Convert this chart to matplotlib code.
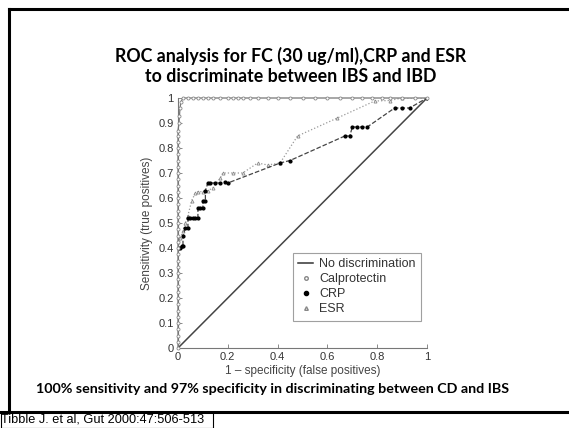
import matplotlib
matplotlib.use("Agg")
import matplotlib.pyplot as plt
from matplotlib.lines import Line2D
from matplotlib.patches import Rectangle

# ROC curves (x = 1 - specificity, y = sensitivity)
calpro_x = [0, 0, 0, 0, 0, 0, 0, 0, 0, 0, 0, 0, 0, 0, 0, 0, 0, 0, 0, 0,
            0, 0, 0, 0, 0, 0, 0, 0, 0, 0, 0, 0, 0, 0, 0, 0, 0.004, 0.006, 0.008, 0.012,
            0.02, 0.04, 0.06, 0.08, 0.1, 0.12, 0.14, 0.17, 0.2, 0.22, 0.24, 0.26,
            0.29, 0.32, 0.36, 0.4, 0.45, 0.5, 0.55, 0.6, 0.65, 0.7, 0.74, 0.78,
            0.82, 0.85, 0.9, 0.95, 1.0]
calpro_y = [0, 0.025, 0.05, 0.075, 0.1, 0.125, 0.15, 0.175, 0.2, 0.225, 0.25, 0.275,
            0.3, 0.325, 0.35, 0.375, 0.4, 0.425, 0.45, 0.475, 0.5, 0.525, 0.55, 0.575,
            0.6, 0.625, 0.65, 0.675, 0.7, 0.725, 0.75, 0.775, 0.8, 0.825, 0.85, 0.87,
            0.9, 0.93, 0.96, 0.985,
            1, 1, 1, 1, 1, 1, 1, 1, 1, 1, 1, 1, 1, 1, 1, 1, 1, 1, 1, 1, 1, 1, 1, 1,
            1, 1, 1, 1, 1]

crp_x = [0, 0.01, 0.015, 0.02, 0.02, 0.03, 0.04, 0.04, 0.05, 0.06, 0.07, 0.08, 0.08,
         0.09, 0.1, 0.1, 0.11, 0.11, 0.12, 0.13, 0.15, 0.17, 0.19, 0.2, 0.41,
         0.45, 0.67, 0.69, 0.7, 0.72, 0.74, 0.76, 0.87, 0.9, 0.93, 1.0]
crp_y = [0.4, 0.4, 0.41, 0.41, 0.45, 0.48, 0.48, 0.52, 0.52, 0.52, 0.52, 0.52, 0.56,
         0.56, 0.56, 0.59, 0.59, 0.63, 0.66, 0.66, 0.66, 0.66, 0.665, 0.66, 0.74,
         0.75, 0.848, 0.848, 0.884, 0.884, 0.884, 0.884, 0.96, 0.96, 0.96, 1.0]

esr_x = [0, 0.01, 0.02, 0.03, 0.04, 0.055, 0.07, 0.08, 0.1, 0.12, 0.14, 0.17, 0.18,
         0.22, 0.26, 0.32, 0.36, 0.41, 0.48, 0.64, 0.79, 0.85, 0.9, 1.0]
esr_y = [0.4, 0.44, 0.47, 0.5, 0.53, 0.59, 0.62, 0.625, 0.625, 0.63, 0.64, 0.68, 0.7,
         0.7, 0.7, 0.74, 0.732, 0.74, 0.848, 0.92, 0.988, 0.99, 1.0, 1.0]

diag = [0, 1]

ticks = [0, 0.1, 0.2, 0.3, 0.4, 0.5, 0.6, 0.7, 0.8, 0.9, 1]
tick_labels = ["0", "0.1", "0.2", "0.3", "0.4", "0.5", "0.6", "0.7", "0.8", "0.9", "1"]
xticks = [0, 0.2, 0.4, 0.6, 0.8, 1]
xtick_labels = ["0", "0.2", "0.4", "0.6", "0.8", "1"]

fig = plt.figure(figsize=(5.69, 4.28), dpi=100)
ax = fig.add_axes([178 / 569, 80 / 428, 249 / 569, 250 / 428])

ax.plot(diag, diag, color="#444444", lw=1.1, label="No discrimination")
ax.plot(esr_x, esr_y, color="#999999", lw=0.9, ls=":", marker="^", ms=2.2,
        mfc="white", mec="#888888", mew=0.6, label="ESR")
ax.plot(crp_x, crp_y, color="#444444", lw=0.9, ls="--", marker="o", ms=2.0,
        mfc="black", mec="black", label="CRP")
ax.plot(calpro_x, calpro_y, color="#777777", lw=0.9, marker="o", ms=2.2,
        mfc="white", mec="#888888", mew=0.6, label="Calprotectin", clip_on=False,
        zorder=4)

ax.set_xlim(0, 1)
ax.set_ylim(0, 1)
ax.set_xticks(xticks)
ax.set_xticklabels(xtick_labels)
ax.set_yticks(ticks)
ax.set_yticklabels(tick_labels)
ax.tick_params(direction="in", length=3, width=0.6, colors="#777777",
               labelcolor="#333333", labelsize=8, pad=3)
for lab in ax.get_xticklabels() + ax.get_yticklabels():
    lab.set_fontfamily("Liberation Sans")
ax.spines["top"].set_visible(False)
ax.spines["right"].set_visible(False)
ax.spines["left"].set_color("#777777")
ax.spines["bottom"].set_color("#777777")
ax.set_xlabel("1 \u2013 specificity (false positives)", fontsize=8.5, color="#444444",
              family="Liberation Sans", labelpad=2)
ax.set_ylabel("Sensitivity (true positives)", fontsize=8.5, color="#444444",
              family="Liberation Sans", labelpad=4)

handles = [
    Line2D([], [], color="#333333", lw=1.1),
    Line2D([], [], ls="none", marker="o", ms=2.6, mfc="white", mec="#888888"),
    Line2D([], [], ls="none", marker="o", ms=3, mfc="black", mec="black"),
    Line2D([], [], ls="none", marker="^", ms=2.6, mfc="white", mec="#888888"),
]
leg = ax.legend(handles, ["No discrimination", "Calprotectin", "CRP", "ESR"],
                loc="lower right", bbox_to_anchor=(1.0, 0.085), fancybox=False,
                edgecolor="#888888", handlelength=1.2, handletextpad=0.5,
                labelspacing=0.25, borderpad=0.4,
                prop={"family": "Liberation Sans", "size": 9})
leg.get_frame().set_linewidth(0.8)
for t in leg.get_texts():
    t.set_color("#333333")

fig.text(291 / 569, 1 - 56 / 428, "ROC analysis for FC (30 ug/ml),CRP and ESR",
         ha="center", va="center", fontsize=12.8, fontweight="bold", family="Lato")
fig.text(291 / 569, 1 - 77 / 428, "to discriminate between IBS and IBD",
         ha="center", va="center", fontsize=12.8, fontweight="bold", family="Lato")
fig.text(273 / 569, 1 - 389 / 428,
         "100% sensitivity and 97% specificity in discriminating between CD and IBS",
         ha="center", va="center", fontsize=10.3, fontweight="bold", family="Lato")

# slide frame
y_top = 1 - 9 / 428
y_bot = 1 - 412 / 428
x_left = 9 / 569
for xs, ys in [([x_left, 1], [y_top, y_top]), ([x_left, x_left], [y_bot, y_top]),
               ([0, 1], [y_bot, y_bot])]:
    fig.add_artist(Line2D(xs, ys, color="black", lw=2.2, transform=fig.transFigure))

fig.add_artist(Rectangle((0.5 / 569, 0.5 / 428), 212 / 569, 15.5 / 428, fill=True,
                         facecolor="white", edgecolor="black", lw=0.8,
                         transform=fig.transFigure))
fig.text(1.0 / 569, 8 / 428, "Tibble J. et al, Gut 2000:47:506-513", ha="left",
         va="center", fontsize=9.2, family="Liberation Sans")

fig.savefig("out.png", dpi=100)
